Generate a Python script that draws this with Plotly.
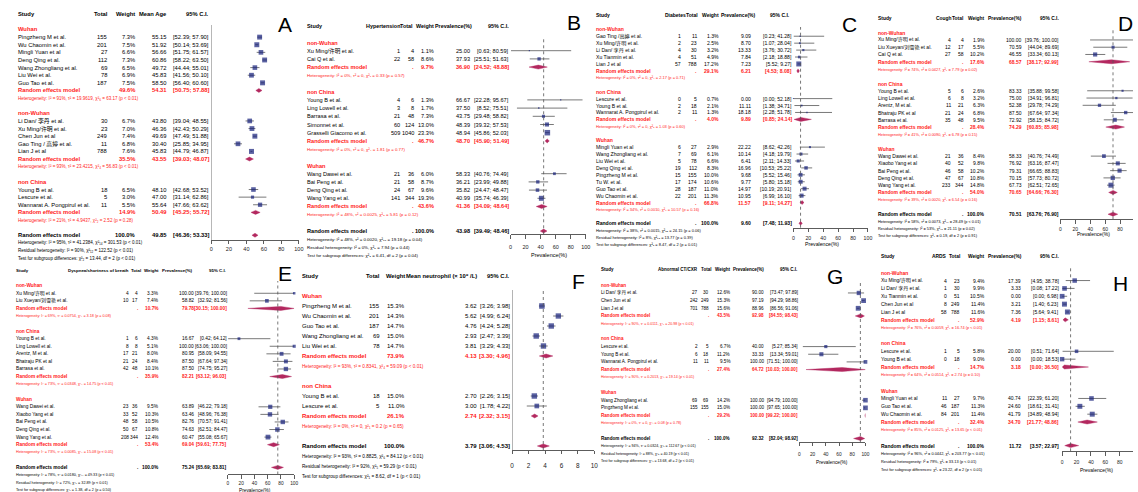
import plotly.graph_objects as go

W, H = 1138, 492
FONT = "Liberation Sans, Arial, Noto Sans CJK SC, sans-serif"
RED = "#ff1a1a"
NAVY = "#15207a"
DIAM = "#b3285f"
LINE = "#6a6a6a"

# ================= Panel A : Mean age =================
A_cols = ["Study", None, "Total", "Weight", "Mean Age", "95% C.I."]
A_subgroups = ["Wuhan", "non-Wuhan", "non China"]
A_study = ["Pingzheng M et al.", "Wu Chaomin et al.", "Mingli Yuan et al", "Deng Qing et al.",
           "Wang Zhongliang et al.", "Liu Wei et al.", "Guo Tao et al.",
           "Li Dan/ 李丹 et al.", "Xu Ming/许明 et al.", "Chen Jun et al", "Gao Ting / 高婷 et al.", "Lian J et al",
           "Young B et al.", "Lescure et al.", "Wannarat A. Pongpirul et al."]
A_group = [0, 0, 0, 0, 0, 0, 0, 1, 1, 1, 1, 1, 2, 2, 2]
A_total = [155, 201, 27, 112, 69, 78, 187, 30, 23, 249, 11, 788, 18, 5, 11]
A_weight = [7.3, 7.5, 6.6, 7.3, 6.5, 6.9, 7.5, 6.7, 7.0, 7.4, 6.8, 7.6, 6.5, 3.0, 5.5]
A_est = [55.15, 51.92, 56.66, 60.86, 49.72, 45.83, 58.50, 43.80, 46.36, 49.69, 30.40, 45.83, 48.10, 47.00, 55.64]
A_lo = [52.39, 50.14, 51.75, 58.22, 44.44, 41.56, 56.40, 39.04, 42.43, 47.49, 25.85, 44.79, 42.68, 31.14, 47.66]
A_hi = [57.90, 53.69, 61.57, 63.50, 55.01, 50.10, 60.60, 48.55, 50.29, 51.88, 34.95, 46.87, 53.52, 62.86, 63.62]
A_sub_weight = [49.6, 35.5, 14.9]
A_sub_est = [54.31, 43.55, 50.49]
A_sub_lo = [50.75, 39.03, 45.25]
A_sub_hi = [57.88, 48.07, 55.72]
A_sub_het = ["Heterogeneity: I² = 91%, τ² = 19.9619, χ²₆ = 63.17 (p < 0.01)",
             "Heterogeneity: I² = 93%, τ² = 23.4215, χ²₄ = 56.83 (p < 0.01)",
             "Heterogeneity: I² = 21%, τ² = 4.9437, χ²₂ = 2.52 (p = 0.28)"]
A_all = [100.0, 49.85, 46.36, 53.33]
A_all_het = ["Heterogeneity: I² = 95%, τ² = 41.2384, χ²₁₄ = 301.53 (p < 0.01)",
             "Residual heterogeneity: I² = 90%, χ²₁₂ = 122.52 (p < 0.01)",
             "Test for subgroup differences: χ²₂ = 13.44, df = 2 (p < 0.01)"]

# ================= Panel B : Hypertension =================
B_cols = ["Study", "Hypertension", "Total", "Weight", "Prevalence(%)", "95% C.I."]
B_subgroups = ["non-Wuhan", "non China", "Wuhan"]
B_study = ["Xu Ming/许明 et al.", "Cai Q et al.", "Young B et al.", "Ling Lowell et al.", "Barrasa et al.",
           "Simonnet et al.", "Grasselli Giacomo et al.", "Wang Dawei et al.", "Bai Peng et al.",
           "Deng Qing et al.", "Wang Yang et al."]
B_group = [0, 0, 1, 1, 1, 1, 1, 2, 2, 2, 2]
B_events = [1, 22, 4, 3, 21, 60, 509, 21, 21, 24, 141]
B_total = [4, 58, 6, 8, 48, 124, 1040, 36, 58, 67, 344]
B_weight = [1.1, 8.6, 1.3, 1.7, 7.3, 13.0, 23.3, 6.0, 8.7, 9.6, 19.3]
B_est = [25.00, 37.93, 66.67, 37.50, 43.75, 48.39, 48.94, 58.33, 36.21, 35.82, 40.99]
B_lo = [0.63, 25.51, 22.28, 8.52, 29.48, 39.32, 45.86, 40.76, 23.99, 24.47, 35.74]
B_hi = [80.59, 51.63, 95.67, 75.51, 58.82, 57.53, 52.03, 74.49, 49.88, 48.47, 46.39]
B_sub_weight = [9.7, 46.7, 43.6]
B_sub_est = [36.90, 48.70, 41.36]
B_sub_lo = [24.52, 45.90, 34.09]
B_sub_hi = [48.88, 51.49, 48.64]
B_sub_het = ["Heterogeneity: I² = 0%, τ² = 0, χ²₁ = 0.33 (p = 0.57)",
             "Heterogeneity: I² = 0%, τ² = 0, χ²₄ = 1.81 (p = 0.77)",
             "Heterogeneity: I² = 48%, τ² = 0.0025, χ²₃ = 5.81 (p = 0.12)"]
B_all = [100.0, 43.98, 39.49, 48.46]
B_all_het = ["Heterogeneity: I² = 48%, τ² = 0.0020, χ²₁₀ = 19.18 (p = 0.04)",
             "Residual heterogeneity: I² = 0%, χ²₈ = 7.94 (p = 0.44)",
             "Test for subgroup differences: χ²₂ = 6.41, df = 2 (p = 0.04)"]

# ================= Panel C : Diabetes =================
C_cols = ["Study", "Diabetes", "Total", "Weight", "Prevalence(%)", "95% C.I."]
C_subgroups = ["non-Wuhan", "non China", "Wuhan"]
C_study = ["Gao Ting /高婷 et al.", "Xu Ming/许明 et al.", "Li Dan/ 李丹 et al.", "Xu Tianmin et al.", "Lian J et al",
           "Lescure et al.", "Young B et al.", "Wannarat A. Pongpirul et al.",
           "Mingli Yuan et al", "Wang Zhongliang et al.", "Liu Wei et al.", "Deng Qing et al.",
           "Pingzheng M et al.", "Tu W. et al.", "Guo Tao et al.", "Wu Chaomin et al."]
C_group = [0, 0, 0, 0, 0, 1, 1, 1, 2, 2, 2, 2, 2, 2, 2, 2]
C_events = [1, 2, 4, 4, 57, 0, 2, 2, 6, 7, 5, 19, 15, 17, 28, 22]
C_total = [11, 23, 30, 51, 788, 5, 18, 11, 27, 69, 78, 112, 155, 174, 187, 201]
C_weight = [1.3, 2.5, 3.2, 4.9, 17.2, 0.7, 2.1, 1.3, 2.9, 6.1, 6.6, 8.3, 10.0, 10.6, 11.0, 11.3]
C_est = [9.09, 8.70, 13.33, 7.84, 7.23, 0.00, 11.11, 18.18, 22.22, 10.14, 6.41, 16.96, 9.68, 9.77, 14.97, 10.95]
C_lo = [0.23, 1.07, 3.76, 2.18, 5.52, 0.00, 1.38, 2.28, 8.62, 4.18, 2.11, 10.53, 5.52, 5.80, 10.19, 6.99]
C_hi = [41.28, 28.04, 30.72, 18.88, 9.27, 52.18, 34.71, 51.78, 42.26, 19.79, 14.33, 25.22, 15.46, 15.18, 20.91, 16.10]
C_sub_weight = [29.1, 4.0, 66.8]
C_sub_est = [6.21, 9.89, 11.57]
C_sub_lo = [4.53, 0.85, 9.11]
C_sub_hi = [8.08, 24.14, 14.27]
C_sub_het = ["Heterogeneity: I² = 0%, τ² = 0, χ²₄ = 2.17 (p = 0.71)",
             "Heterogeneity: I² = 0%, τ² = 0, χ²₂ = 1.03 (p = 0.60)",
             "Heterogeneity: I² = 34%, τ² = 0.0010, χ²₇ = 10.57 (p = 0.16)"]
C_all = [100.0, 9.60, 7.48, 11.93]
C_all_het = ["Heterogeneity: I² = 38%, τ² = 0.0015, χ²₁₅ = 24.15 (p = 0.06)",
             "Residual heterogeneity: I² = 8%, χ²₁₃ = 13.77 (p = 0.39)",
             "Test for subgroup differences: χ²₂ = 8.47, df = 2 (p = 0.01)"]

# ================= Panel D : Cough =================
D_cols = ["Study", "Cough", "Total", "Weight", "Prevalence(%)", "95% C.I."]
D_subgroups = ["non-Wuhan", "non China", "Wuhan"]
D_study = ["Xu Ming/许明 et al.", "Liu Xueyan/刘雪艳 et al.", "Cai Q et al.",
           "Young B et al.", "Ling Lowell et al.", "Arentz, M et al.", "Bhatraju PK et al", "Barrasa et al.",
           "Wang Dawei et al.", "Xiaobo Yang et al", "Bai Peng et al.", "Deng Qing et al.", "Wang Yang et al."]
D_group = [0, 0, 0, 1, 1, 1, 1, 1, 2, 2, 2, 2, 2]
D_events = [4, 12, 27, 5, 6, 11, 21, 35, 21, 40, 46, 47, 233]
D_total = [4, 17, 58, 6, 8, 21, 24, 48, 36, 52, 58, 67, 344]
D_weight = [1.9, 5.5, 10.2, 2.6, 3.2, 6.3, 6.8, 9.5, 8.4, 9.8, 10.2, 10.8, 14.8]
D_est = [100.00, 70.59, 46.55, 83.33, 75.00, 52.38, 87.50, 72.92, 58.33, 76.92, 79.31, 70.15, 67.73]
D_lo = [39.76, 44.04, 33.34, 35.88, 34.91, 29.78, 67.64, 58.15, 40.76, 63.16, 66.65, 57.73, 62.51]
D_hi = [100.00, 89.69, 60.13, 99.58, 96.81, 74.29, 97.34, 84.72, 74.49, 87.47, 88.83, 80.72, 72.65]
D_sub_weight = [17.6, 28.4, 54.0]
D_sub_est = [68.57, 74.29, 70.65]
D_sub_lo = [38.17, 60.85, 64.66]
D_sub_hi = [92.99, 85.98, 76.30]
D_sub_het = ["Heterogeneity: I² = 74%, τ² = 0.0427, χ²₂ = 7.79 (p = 0.02)",
             "Heterogeneity: I² = 41%, τ² = 0.0090, χ²₄ = 6.78 (p = 0.15)",
             "Heterogeneity: I² = 39%, τ² = 0.0020, χ²₄ = 6.54 (p = 0.16)"]
D_all = [100.0, 70.51, 63.76, 76.90]
D_all_het = ["Heterogeneity: I² = 58%, τ² = 0.0073, χ²₁₂ = 28.49 (p < 0.01)",
             "Residual heterogeneity: I² = 53%, χ²₁₀ = 21.11 (p = 0.02)",
             "Test for subgroup differences: χ²₂ = 0.19, df = 2 (p = 0.91)"]

# ================= Panel E : Dyspnea =================
E_cols = ["Study", "Dyspnea/shortness of breath", "Total", "Weight", "Prevalence(%)", "95% C.I."]
E_subgroups = ["non-Wuhan", "non China", "Wuhan"]
E_study = ["Xu Ming/许明 et al.", "Liu Xueyan/刘雪艳 et al.",
           "Young B et al.", "Ling Lowell et al.", "Arentz, M et al.", "Bhatraju PK et al", "Barrasa et al.",
           "Wang Dawei et al.", "Xiaobo Yang et al", "Bai Peng et al.", "Deng Qing et al.", "Wang Yang et al."]
E_group = [0, 0, 1, 1, 1, 1, 1, 2, 2, 2, 2, 2]
E_events = [4, 10, 1, 8, 17, 21, 42, 23, 33, 48, 50, 208]
E_total = [4, 17, 6, 8, 21, 24, 48, 36, 52, 58, 67, 344]
E_weight = [3.3, 7.4, 4.3, 5.1, 8.0, 8.4, 10.1, 9.5, 10.3, 10.5, 10.8, 12.4]
E_est = [100.00, 58.82, 16.67, 100.00, 80.95, 87.50, 87.50, 63.89, 63.46, 82.76, 74.63, 60.47]
E_lo = [39.76, 32.92, 0.42, 63.06, 58.09, 67.64, 74.75, 46.22, 48.96, 70.57, 62.51, 55.08]
E_hi = [100.00, 81.56, 64.12, 100.00, 94.55, 97.34, 95.27, 79.18, 76.38, 91.41, 84.47, 65.67]
E_sub_weight = [10.7, 35.9, 53.4]
E_sub_est = [79.78, 82.21, 69.04]
E_sub_lo = [30.15, 63.12, 59.61]
E_sub_hi = [100.00, 96.03, 77.75]
E_sub_het = ["Heterogeneity: I² = 69%, τ² = 0.0754, χ²₁ = 3.18 (p = 0.08)",
             "Heterogeneity: I² = 73%, τ² = 0.0348, χ²₄ = 14.75 (p < 0.01)",
             "Heterogeneity: I² = 73%, τ² = 0.0085, χ²₄ = 15.08 (p < 0.01)"]
E_all = [100.0, 75.24, 65.69, 83.81]
E_all_het = ["Heterogeneity: I² = 78%, τ² = 0.0180, χ²₁₁ = 49.33 (p < 0.01)",
             "Residual heterogeneity: I² = 72%, χ²₉ = 32.89 (p < 0.01)",
             "Test for subgroup differences: χ²₂ = 1.38, df = 2 (p = 0.50)"]

# ================= Panel F : Mean neutrophil =================
F_cols = ["Study", None, "Total", "Weight", "Mean neutrophil (× 10⁹ /L)", "95% C.I."]
F_subgroups = ["Wuhan", "non China"]
F_study = ["Pingzheng M et al.", "Wu Chaomin et al.", "Guo Tao et al.", "Wang Zhongliang et al.",
           "Liu Wei et al.", "Young B et al.", "Lescure et al."]
F_group = [0, 0, 0, 0, 0, 1, 1]
F_total = [155, 201, 187, 69, 78, 18, 5]
F_weight = [15.3, 14.3, 14.7, 15.0, 14.7, 15.0, 11.0]
F_est = [3.62, 5.62, 4.76, 2.93, 3.81, 2.70, 3.00]
F_lo = [3.26, 4.99, 4.24, 2.47, 3.29, 2.26, 1.78]
F_hi = [3.98, 6.24, 5.28, 3.39, 4.33, 3.15, 4.22]
F_sub_weight = [73.9, 26.1]
F_sub_est = [4.13, 2.74]
F_sub_lo = [3.30, 2.32]
F_sub_hi = [4.96, 3.15]
F_sub_het = ["Heterogeneity: I² = 93%, τ² = 0.8341, χ²₄ = 59.09 (p < 0.01)",
             "Heterogeneity: I² = 0%, τ² = 0, χ²₁ = 0.2 (p = 0.65)"]
F_all = [100.0, 3.79, 3.06, 4.53]
F_all_het = ["Heterogeneity: I² = 93%, τ² = 0.8825, χ²₆ = 84.12 (p < 0.01)",
             "Residual heterogeneity: I² = 92%, χ²₅ = 59.29 (p < 0.01)",
             "Test for subgroup differences: χ²₁ = 8.62, df = 1 (p < 0.01)"]

# ================= Panel G : Abnormal CT/CXR =================
G_cols = ["Study", "Abnormal CT/CXR", "Total", "Weight", "Prevalence(%)", "95% C.I."]
G_subgroups = ["non-Wuhan", "non China", "Wuhan"]
G_study = ["Li Dan/ 李丹 et al.", "Chen Jun et al", "Lian J et al",
           "Lescure et al.", "Young B et al.", "Wannarat A. Pongpirul et al.",
           "Wang Zhongliang et al.", "Pingzheng M et al."]
G_group = [0, 0, 0, 1, 1, 1, 2, 2]
G_events = [27, 242, 701, 2, 6, 11, 69, 155]
G_total = [30, 249, 788, 5, 18, 11, 69, 155]
G_weight = [12.6, 15.3, 15.6, 6.7, 11.2, 9.5, 14.2, 15.0]
G_est = [90.00, 97.19, 88.96, 40.00, 33.33, 100.00, 100.00, 100.00]
G_lo = [73.47, 94.29, 86.56, 5.27, 13.34, 71.51, 94.79, 97.65]
G_hi = [97.89, 98.86, 91.06, 85.34, 59.01, 100.00, 100.00, 100.00]
G_sub_weight = [43.5, 27.4, 29.2]
G_sub_est = [92.98, 64.72, 100.00]
G_sub_lo = [84.55, 10.03, 99.22]
G_sub_hi = [98.43, 100.00, 100.00]
G_sub_het = ["Heterogeneity: I² = 90%, τ² = 0.0111, χ²₂ = 20.98 (p < 0.01)",
             "Heterogeneity: I² = 90%, τ² = 0.2013, χ²₂ = 19.14 (p < 0.01)",
             "Heterogeneity: I² = 0%, τ² = 0, χ²₁ = 0.08 (p = 0.78)"]
G_all = [100.0, 92.32, 82.04, 98.92]
G_all_het = ["Heterogeneity: I² = 94%, τ² = 0.0324, χ²₇ = 112.67 (p < 0.01)",
             "Residual heterogeneity: I² = 88%, χ²₅ = 40.19 (p < 0.01)",
             "Test for subgroup differences: χ²₂ = 13.68, df = 2 (p < 0.01)"]

# ================= Panel H : ARDS =================
H_cols = ["Study", "ARDS", "Total", "Weight", "Prevalence(%)", "95% C.I."]
H_subgroups = ["non-Wuhan", "non China", "Wuhan"]
H_study = ["Xu Ming/许明 et al.", "Li Dan/ 李丹 et al.", "Xu Tianmin et al.", "Chen Jun et al", "Lian J et al",
           "Lescure et al.", "Young B et al.",
           "Mingli Yuan et al", "Guo Tao et al.", "Wu Chaomin et al."]
H_group = [0, 0, 0, 0, 0, 1, 1, 2, 2, 2]
H_events = [4, 1, 0, 8, 58, 1, 0, 11, 46, 84]
H_total = [23, 30, 51, 249, 788, 5, 18, 27, 187, 201]
H_weight = [9.4, 9.9, 10.5, 11.4, 11.6, 5.8, 9.0, 9.7, 11.3, 11.4]
H_est = [17.39, 3.33, 0.00, 3.21, 7.36, 20.00, 0.00, 40.74, 24.60, 41.79]
H_lo = [4.95, 0.08, 0.00, 1.40, 5.64, 0.51, 0.00, 22.39, 18.61, 34.89]
H_hi = [38.78, 17.22, 6.98, 6.23, 9.41, 71.64, 18.53, 61.20, 31.41, 48.94]
H_sub_weight = [52.9, 14.7, 32.4]
H_sub_est = [4.19, 3.18, 34.70]
H_sub_lo = [1.15, 0.00, 21.77]
H_sub_hi = [8.61, 36.50, 48.86]
H_sub_het = ["Heterogeneity: I² = 76%, τ² = 0.0059, χ²₄ = 16.74 (p < 0.01)",
             "Heterogeneity: I² = 64%, τ² = 0.0514, χ²₁ = 2.74 (p = 0.10)",
             "Heterogeneity: I² = 85%, τ² = 0.0125, χ²₂ = 13.65 (p < 0.01)"]
H_all = [100.0, 11.72, 3.57, 22.97]
H_all_het = ["Heterogeneity: I² = 96%, τ² = 0.0442, χ²₉ = 203.77 (p < 0.01)",
             "Residual heterogeneity: I² = 79%, χ²₇ = 33.13 (p < 0.01)",
             "Test for subgroup differences: χ²₂ = 23.22, df = 2 (p < 0.01)"]

# ---------------- assemble panel specs from the arrays ----------------
g = globals()
PANELS = []
for key in "ABCDEFGH":
    PANELS.append(dict(
        key=key, cols=g[key + "_cols"], subgroups=g[key + "_subgroups"], study=g[key + "_study"],
        group=g[key + "_group"], events=g.get(key + "_events"), total=g[key + "_total"],
        weight=g[key + "_weight"], est=g[key + "_est"], lo=g[key + "_lo"], hi=g[key + "_hi"],
        sub_weight=g[key + "_sub_weight"], sub_est=g[key + "_sub_est"], sub_lo=g[key + "_sub_lo"],
        sub_hi=g[key + "_sub_hi"], sub_het=g[key + "_sub_het"], all=g[key + "_all"],
        all_het=g[key + "_all_het"]))

# ---------------- layout (pixel positions) ----------------
# cx: value columns (study left edge, then right edges); hx: header right edges
POS = {
    "A": dict(letter=(285, 24), y0=29.5, sp=7.62, top=25, axis=240, px=(210.7, 298.7), vmax=100, dt=20,
              cx=[15.7, None, 106, 134, 166.5, 208], hx=[15.7, None, 107, 134, 166, 208],
              fs=5.8, hfs=5.8, tfs=5.5, lso=0, ref=True, dot=False, xtitle=None, smax=5.0),
    "B": dict(letter=(576, 22.5), y0=42.5, sp=8.2, top=39, axis=234.3, px=(511.7, 587.4), vmax=100, dt=20,
              cx=[306.7, 400.7, 415, 434.3, 471, 510.3], hx=[306.7, 400, 414, 435, 473, 510],
              fs=5.6, hfs=5.4, tfs=5.5, lso=4, ref=False, dot=True, xtitle=(550, 255.3), smax=5.5),
    "C": dict(letter=(853, 24), y0=29.3, sp=6.93, top=27, axis=227.7, px=(796.3, 871.3), vmax=100, dt=20,
              cx=[598, 683, 699, 721.3, 754, 794.7], hx=[598, 688, 700.7, 721.3, 759, 793],
              fs=5.1, hfs=5.0, tfs=5.2, lso=2, ref=False, dot=True, xtitle=(824.7, 244), smax=5.0),
    "D": dict(letter=(1130.5, 23.5), y0=32.7, sp=7.26, top=29, axis=219.3, px=(1065.0, 1140.0), vmax=100, dt=20,
              cx=[881, 954.7, 968.3, 989.3, 1026, 1064], hx=[881, 955, 968.3, 989.3, 1026, 1063.3],
              fs=5.0, hfs=4.9, tfs=5.0, lso=1, ref=False, dot=True, xtitle=(1098, 234.3), smax=5.0),
    "E": dict(letter=(285, 273), y0=285.7, sp=7.57, top=281, axis=474.5, px=(227.3, 294), vmax=100, dt=20,
              cx=[14, 127.3, 137, 157.7, 192.7, 226], hx=[14, 127.7, 140, 158.3, 191.7, 225.7],
              fs=4.8, hfs=4.4, tfs=4.8, lso=0, ref=False, dot=True, xtitle=(255, 490.3), smax=4.8),
    "F": dict(letter=(580, 281), y0=296, sp=10.0, top=290, axis=450, px=(513.3, 596.0), vmax=10, dt=2,
              cx=[302.3, None, 380, 405.7, 478.3, 511], hx=[302.3, None, 380.7, 405, 478.3, 511],
              fs=6.0, hfs=5.8, tfs=6.4, lso=6, ref=True, dot=True, xtitle=None, smax=5.5),
    "G": dict(letter=(838, 276.5), y0=285.3, sp=7.66, top=283, axis=442, px=(802.3, 868.8), vmax=100, dt=20,
              cx=[603, 700.3, 711.7, 733, 767, 800.7], hx=[603, 700.7, 713.7, 733, 767, 800.3],
              fs=4.6, hfs=4.5, tfs=4.8, lso=4, ref=False, dot=True, xtitle=(834.7, 462), smax=4.8),
    "H": dict(letter=(1125.5, 283), y0=272.7, sp=7.86, top=268, axis=451.3, px=(1066.7, 1139.2), vmax=100, dt=20,
              cx=[884, 951, 964, 989.3, 1025.7, 1064], hx=[884, 951, 965, 989.3, 1026.7, 1063.3],
              fs=5.0, hfs=4.9, tfs=5.0, lso=2, ref=False, dot=True, xtitle=(1101.7, 470.3), smax=5.0),
}

fig = go.Figure()
anns, shapes = [], []


def T(x, y, s, size, color="black", bold=False, anchor="left"):
    if s is None or s == "":
        return
    if bold:
        s = "<b>" + s + "</b>"
    anns.append(dict(x=x / W, y=1 - y / H, xref="paper", yref="paper", text=s, showarrow=False,
                     xanchor=anchor, yanchor="middle", borderpad=0, borderwidth=0,
                     font=dict(size=size, color=color, family=FONT)))


def fmt_ci(lo, hi):
    return f"[{lo:.2f}; {hi:.2f}]"


for k, P in enumerate(PANELS):
    s = "" if k == 0 else str(k + 1)
    xa, ya = "x" + s, "y" + s
    L = POS[P["key"]]
    y0, sp, fs = L["y0"], L["sp"], L["fs"]
    hs = fs * 0.78
    cx, hx = L["cx"], L["hx"]
    has_ev = P["events"] is not None

    def ry(r):
        return y0 + sp * r

    # header
    T(hx[0], ry(-2), P["cols"][0], L["hfs"], bold=True)
    for j in range(1, 6):
        if hx[j] is not None and P["cols"][j]:
            T(hx[j], ry(-2), P["cols"][j], L["hfs"], bold=True, anchor="right")

    n = len(P["study"])
    study_row = [0] * n
    sub_rows = []
    r = 0
    for gi, gname in enumerate(P["subgroups"]):
        members = [i for i in range(n) if P["group"][i] == gi]
        T(cx[0], ry(r), gname, fs, RED, True)
        for m, i in enumerate(members):
            rr = r + 1 + m
            study_row[i] = rr
            y = ry(rr)
            T(cx[0], y, P["study"][i], fs)
            if has_ev:
                T(cx[1], y, str(P["events"][i]), fs, anchor="right")
            T(cx[2], y, str(P["total"][i]), fs, anchor="right")
            T(cx[3], y, f"{P['weight'][i]:.1f}%", fs, anchor="right")
            T(cx[4], y, f"{P['est'][i]:.2f}", fs, anchor="right")
            T(cx[5], y, fmt_ci(P["lo"][i], P["hi"][i]), fs, anchor="right")
        rr = r + len(members) + 1
        sub_rows.append(rr)
        y = ry(rr)
        T(cx[0], y, "Random effects model", fs, RED, True)
        if has_ev:
            T(cx[2], y, ".", fs, RED, True, "right")
        T(cx[3], y, f"{P['sub_weight'][gi]:.1f}%", fs, RED, True, "right")
        T(cx[4], y, f"{P['sub_est'][gi]:.2f}", fs, RED, True, "right")
        T(cx[5], y, fmt_ci(P["sub_lo"][gi], P["sub_hi"][gi]), fs, RED, True, "right")
        T(cx[0], ry(rr + 1), P["sub_het"][gi], hs, RED)
        r = rr + 3
    all_row = r
    y = ry(all_row)
    T(cx[0], y, "Random effects model", fs, bold=True)
    if has_ev:
        T(cx[2], y, ".", fs, bold=True, anchor="right")
    T(cx[3], y, f"{P['all'][0]:.1f}%", fs, bold=True, anchor="right")
    T(cx[4], y, f"{P['all'][1]:.2f}", fs, bold=True, anchor="right")
    T(cx[5], y, fmt_ci(P["all"][2], P["all"][3]), fs, bold=True, anchor="right")
    for j, line in enumerate(P["all_het"]):
        T(cx[0], ry(all_row + 1 + j), line, hs)

    # panel letter and axis title
    lx, ly = L["letter"]
    T(lx, ly, P["key"], 21, anchor="center")
    if L["xtitle"]:
        T(L["xtitle"][0], L["xtitle"][1], "Prevalence(%)", L["tfs"], anchor="center")

    # --- forest marks ---
    xs, ys = [], []
    for i in range(n):
        xs += [P["lo"][i], P["hi"][i], None]
        ys += [study_row[i], study_row[i], None]
    fig.add_trace(go.Scatter(x=xs, y=ys, mode="lines", line=dict(color=LINE, width=0.9),
                             xaxis=xa, yaxis=ya, hoverinfo="skip", showlegend=False, cliponaxis=False))
    wmax = max(P["weight"])
    sizes = [L["smax"] * (w / wmax) ** 0.5 for w in P["weight"]]
    fig.add_trace(go.Scatter(x=P["est"], y=study_row, mode="markers",
                             marker=dict(symbol="square", size=sizes, color=NAVY, line=dict(width=0)),
                             xaxis=xa, yaxis=ya, hoverinfo="skip", showlegend=False, cliponaxis=False))
    h = 2.0 / sp  # diamond half-height: about 2 px
    dx, dy = [], []
    for gi in range(len(P["subgroups"])):
        e, lo, hi, rr = P["sub_est"][gi], P["sub_lo"][gi], P["sub_hi"][gi], sub_rows[gi]
        dx += [lo, e, hi, e, lo, None]
        dy += [rr, rr - h, rr, rr + h, rr, None]
    e, lo, hi = P["all"][1], P["all"][2], P["all"][3]
    dx += [lo, e, hi, e, lo]
    dy += [all_row, all_row - h, all_row, all_row + h, all_row]
    fig.add_trace(go.Scatter(x=dx, y=dy, mode="lines", fill="toself", fillcolor=DIAM,
                             line=dict(color=DIAM, width=0.4), xaxis=xa, yaxis=ya,
                             hoverinfo="skip", showlegend=False, cliponaxis=False))

    if L["ref"]:
        shapes.append(dict(type="line", xref=xa, yref=ya + " domain", x0=0, x1=0, y0=0, y1=1,
                           line=dict(color="#555555", width=0.8)))
    if L["dot"]:
        shapes.append(dict(type="line", xref=xa, yref=ya + " domain", x0=P["all"][1], x1=P["all"][1],
                           y0=0, y1=1, line=dict(color="#555555", width=0.8, dash="dot")))

    px0, px1 = L["px"]
    vmax = L["vmax"]
    rmax = vmax
    if px1 > W:  # clip the axis at the figure edge, keeping the same scale
        rmax = vmax * (W - px0) / (px1 - px0)
        px1 = W
    ticks = list(range(0, vmax + 1, L["dt"]))
    fig.update_layout(**{
        "xaxis" + s: dict(domain=[px0 / W, px1 / W], range=[0, rmax], anchor=ya,
                          tickmode="array", tickvals=ticks, showline=True, linecolor="#333333",
                          linewidth=0.8, ticks="outside", ticklen=3.5, tickwidth=0.8, tickcolor="#333333",
                          ticklabelstandoff=int(L["lso"]),
                          tickfont=dict(size=L["tfs"], family=FONT, color="#222222"),
                          showgrid=False, zeroline=False, fixedrange=True),
        "yaxis" + s: dict(domain=[1 - L["axis"] / H, 1 - L["top"] / H],
                          range=[(L["axis"] - y0) / sp, (L["top"] - y0) / sp], anchor=xa,
                          visible=False, fixedrange=True),
    })

fig.update_layout(width=W, height=H, margin=dict(l=0, r=0, t=0, b=0),
                  paper_bgcolor="white", plot_bgcolor="rgba(0,0,0,0)",
                  annotations=anns, shapes=shapes, showlegend=False)
# the page's default body margin would shift the 1138x492 figure inside the 1138x492 window
fig.write_html("out.html", config={"displayModeBar": False, "staticPlot": True},
               post_script="document.body.style.margin='0';document.body.style.overflow='hidden';")
